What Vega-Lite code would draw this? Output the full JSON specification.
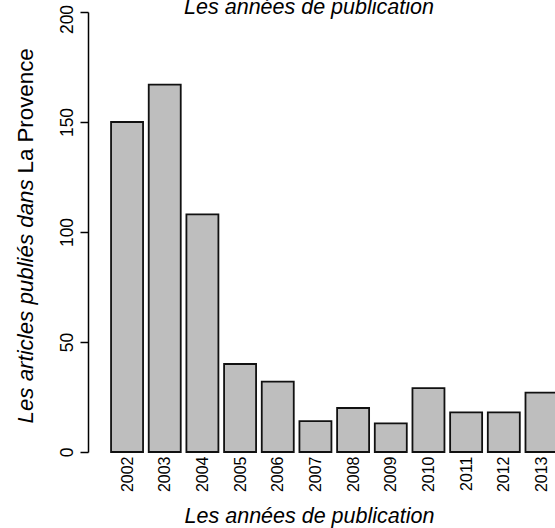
{
  "$schema": "https://vega.github.io/schema/vega-lite/v6.json",
  "autosize": "none",
  "width": 467,
  "height": 440,
  "padding": {"left": 88, "top": 12, "right": 0, "bottom": 76},
  "background": "white",
  "config": {
    "view": {"stroke": null},
    "font": "Liberation Sans",
    "axis": {"grid": false, "labelColor": "black", "titleColor": "black", "domainColor": "black", "tickColor": "black", "labelFont": "Liberation Sans", "titleFont": "Liberation Sans", "titleFontWeight": "normal"}
  },
  "title": {
    "text": "Les années de publication",
    "font": "Liberation Sans",
    "fontSize": 21.5,
    "fontStyle": "italic",
    "fontWeight": "normal",
    "color": "black",
    "anchor": "middle",
    "frame": "group",
    "baseline": "alphabetic",
    "offset": 0,
    "dx": -12.5,
    "dy": 31
  },
  "data": {
    "values": [
      {"year": 2002, "n": 150},
      {"year": 2003, "n": 167},
      {"year": 2004, "n": 108},
      {"year": 2005, "n": 40},
      {"year": 2006, "n": 32},
      {"year": 2007, "n": 14},
      {"year": 2008, "n": 20},
      {"year": 2009, "n": 13},
      {"year": 2010, "n": 29},
      {"year": 2011, "n": 18},
      {"year": 2012, "n": 18},
      {"year": 2013, "n": 27}
    ]
  },
  "resolve": {"axis": {"y": "independent"}},
  "layer": [
    {
      "mark": {"type": "bar", "width": 32, "fill": "#bebebe", "stroke": "#111111", "strokeWidth": 1.8, "clip": false},
      "encoding": {
        "x": {
          "field": "year",
          "type": "quantitative",
          "scale": {"domain": [2001.096, 2013.226], "nice": false, "zero": false},
          "axis": {
            "values": [2002, 2003, 2004, 2005, 2006, 2007, 2008, 2009, 2010, 2011, 2012, 2013],
            "format": "d",
            "labelAngle": -90,
            "labelAlign": "right",
            "labelBaseline": "middle",
            "labelFontSize": 16,
            "labelPadding": 4,
            "ticks": false,
            "tickSize": 0,
            "domain": false,
            "labelOverlap": false,
            "labelFlush": false,
            "title": "Les années de publication",
            "titleFontSize": 21.5,
            "titleFontStyle": "italic",
            "titleAlign": "center",
            "titleBaseline": "alphabetic",
            "titleX": 221,
            "titleY": 70
          }
        },
        "y": {
          "field": "n",
          "type": "quantitative",
          "scale": {"domain": [0, 200], "nice": false},
          "axis": {
            "orient": "left",
            "values": [0, 50, 100, 150, 200],
            "labelAngle": -90,
            "labelAlign": "center",
            "labelBaseline": "alphabetic",
            "labelFontSize": 17.5,
            "labelPadding": 8,
            "labelOffset": {"condition": {"test": "datum.value == 200", "value": 7}, "value": 0},
            "tickSize": 8,
            "tickWidth": 1.5,
            "domainWidth": 1.5,
            "labelOverlap": false,
            "labelFlush": false,
            "title": "Les articles publiés dans",
            "titleFontSize": 22.3,
            "titleFontStyle": "italic",
            "titleAngle": -90,
            "titleAlign": "left",
            "titleBaseline": "alphabetic",
            "titleX": -56,
            "titleY": 411
          }
        }
      }
    },
    {
      "mark": {"type": "bar", "width": 32, "opacity": 0, "clip": false},
      "encoding": {
        "x": {"field": "year", "type": "quantitative", "axis": {"labelFontSize": 16, "labelAngle": -90}},
        "y": {
          "field": "n",
          "type": "quantitative",
          "axis": {
            "orient": "left",
            "labels": false,
            "ticks": false,
            "domain": false,
            "title": "La Provence",
            "titleFontSize": 22.3,
            "titleFontStyle": "normal",
            "titleAngle": -90,
            "titleAlign": "left",
            "titleBaseline": "alphabetic",
            "titleX": -56,
            "titleY": 161
          }
        }
      }
    }
  ]
}
